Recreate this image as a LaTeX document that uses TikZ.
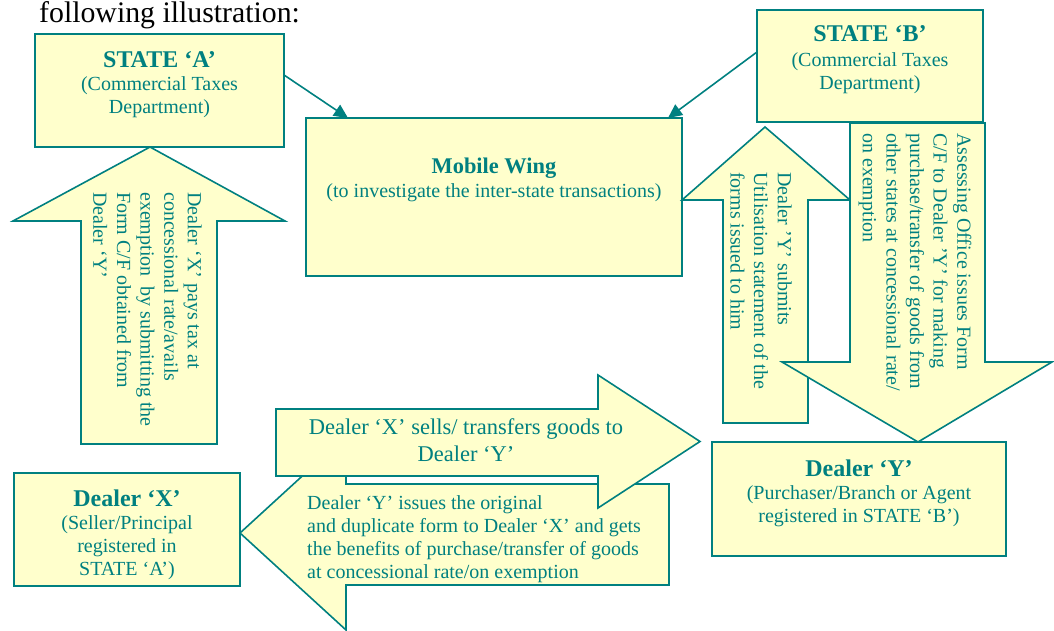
\documentclass[tikz,border=0pt]{standalone}
\usepackage{fontspec}
\setmainfont{Liberation Serif}
\usetikzlibrary{arrows.meta}
\definecolor{tealc}{HTML}{008080}
\definecolor{yel}{HTML}{FFFFCC}
\begin{document}
\begin{tikzpicture}[x=1pt,y=-1pt,
  box/.style={draw=tealc, fill=yel, line width=1.6pt, inner sep=0pt, outer sep=0pt, anchor=north west},
  blk/.style={draw=tealc, fill=yel, line width=1.6pt, line join=miter},
  conn/.style={draw=tealc, line width=1.6pt, -{Triangle[length=14pt,width=13pt]}},
  head/.style={text=tealc, font=\fontsize{24}{28}\selectfont\bfseries, inner sep=0pt, anchor=base},
  sub/.style={text=tealc, font=\fontsize{20}{23}\selectfont, align=center, inner sep=0pt, anchor=base},
  vtext/.style={text=tealc, font=\fontsize{20}{23.6}\selectfont, align=left, inner sep=0pt, rotate=-90, anchor=west}]
\useasboundingbox (0,0) rectangle (1054,631);

\node[anchor=base west, font=\fontsize{29.8}{34}\selectfont, inner sep=0pt] (title) at (39,23) {following illustration:};

% boxes
\node[box, minimum width=249pt, minimum height=113pt] (stateA) at (35,34) {};
\node[box, minimum width=376pt, minimum height=158pt] (mw) at (306,118) {};
\node[box, minimum width=226pt, minimum height=112pt] (stateB) at (757,10) {};
\node[box, minimum width=226pt, minimum height=113pt] (dealerX) at (14,473) {};
\node[box, minimum width=294pt, minimum height=114pt] (dealerY) at (712,442) {};

% box texts (anchor=base is the baseline of the last line)
\node[head] (stateAh) at (159.5,68) {STATE ‘A’};
\node[sub] (stateAs) at (159.5,114) {(Commercial Taxes\\Department)};
\node[head, font=\fontsize{22.4}{26}\selectfont\bfseries] (mwh) at (494,174) {Mobile Wing};
\node[sub] (mws) at (494,197) {(to investigate the inter-state transactions)};
\node[head] (stateBh) at (870,42) {STATE ‘B’};
\node[sub] (stateBs) at (870,89.5) {(Commercial Taxes\\Department)};
\node[head] (dealerXh) at (127,506) {Dealer ‘X’};
\node[sub] (dealerXs) at (127,575) {(Seller/Principal\\registered in\\STATE ‘A’)};
\node[head] (dealerYh) at (859,476) {Dealer ‘Y’};
\node[sub] (dealerYs) at (859,522) {(Purchaser/Branch or Agent\\registered in STATE ‘B’)};

% block arrows
\draw[blk] (150,147) -- (285,221) -- (217,221) -- (217,444) -- (81,444) -- (81,221) -- (13,221) -- cycle;
\node[vtext] (payT) at (147.5,192) {Dealer ‘X’ pays tax at\\concessional rate/avails\\exemption\ \ by submitting the\\Form C/F obtained from\\Dealer ‘Y’};

\draw[blk] (240,533) -- (346,436) -- (346,484) -- (669,484) -- (669,585) -- (346,585) -- (346,630) -- cycle;
\node[text=tealc, font=\fontsize{20}{23}\selectfont, align=left, inner sep=0pt, anchor=west] (issuesT) at (307,539) {Dealer ‘Y’ issues the original\\and duplicate form to Dealer ‘X’ and gets\\the benefits of purchase/transfer of goods\\at concessional rate/on exemption};

\draw[blk] (276,409) -- (598,409) -- (598,375) -- (700,441.5) -- (598,508) -- (598,476) -- (276,476) -- cycle;
\node[text=tealc, font=\fontsize{22.5}{27}\selectfont, align=center, inner sep=0pt] (sellsT) at (466,440) {Dealer ‘X’ sells/ transfers goods to\\Dealer ‘Y’};

\draw[blk] (765,127) -- (850,200) -- (808,200) -- (808,423) -- (723,423) -- (723,200) -- (682,200) -- cycle;
\node[vtext] (submitT) at (761,172) {Dealer ’Y’ submits\\Utilisation statement of the\\forms issued to him};

\draw[blk] (850,123) -- (985,123) -- (985,362) -- (1052,362) -- (918,442) -- (782,362) -- (850,362) -- cycle;
\node[vtext] (assessT) at (915,133) {Assessing Office issues Form\\C/F to Dealer ’Y’ for making\\purchase/transfer of goods from\\other states at concessional rate/\\on exemption};

% connectors
\draw[conn] ([yshift=-41pt]stateA.north east) -- ([xshift=42pt]mw.north west);
\draw[conn] ([yshift=-42pt]stateB.north west) -- ([xshift=-14pt]mw.north east);
\end{tikzpicture}
\end{document}
